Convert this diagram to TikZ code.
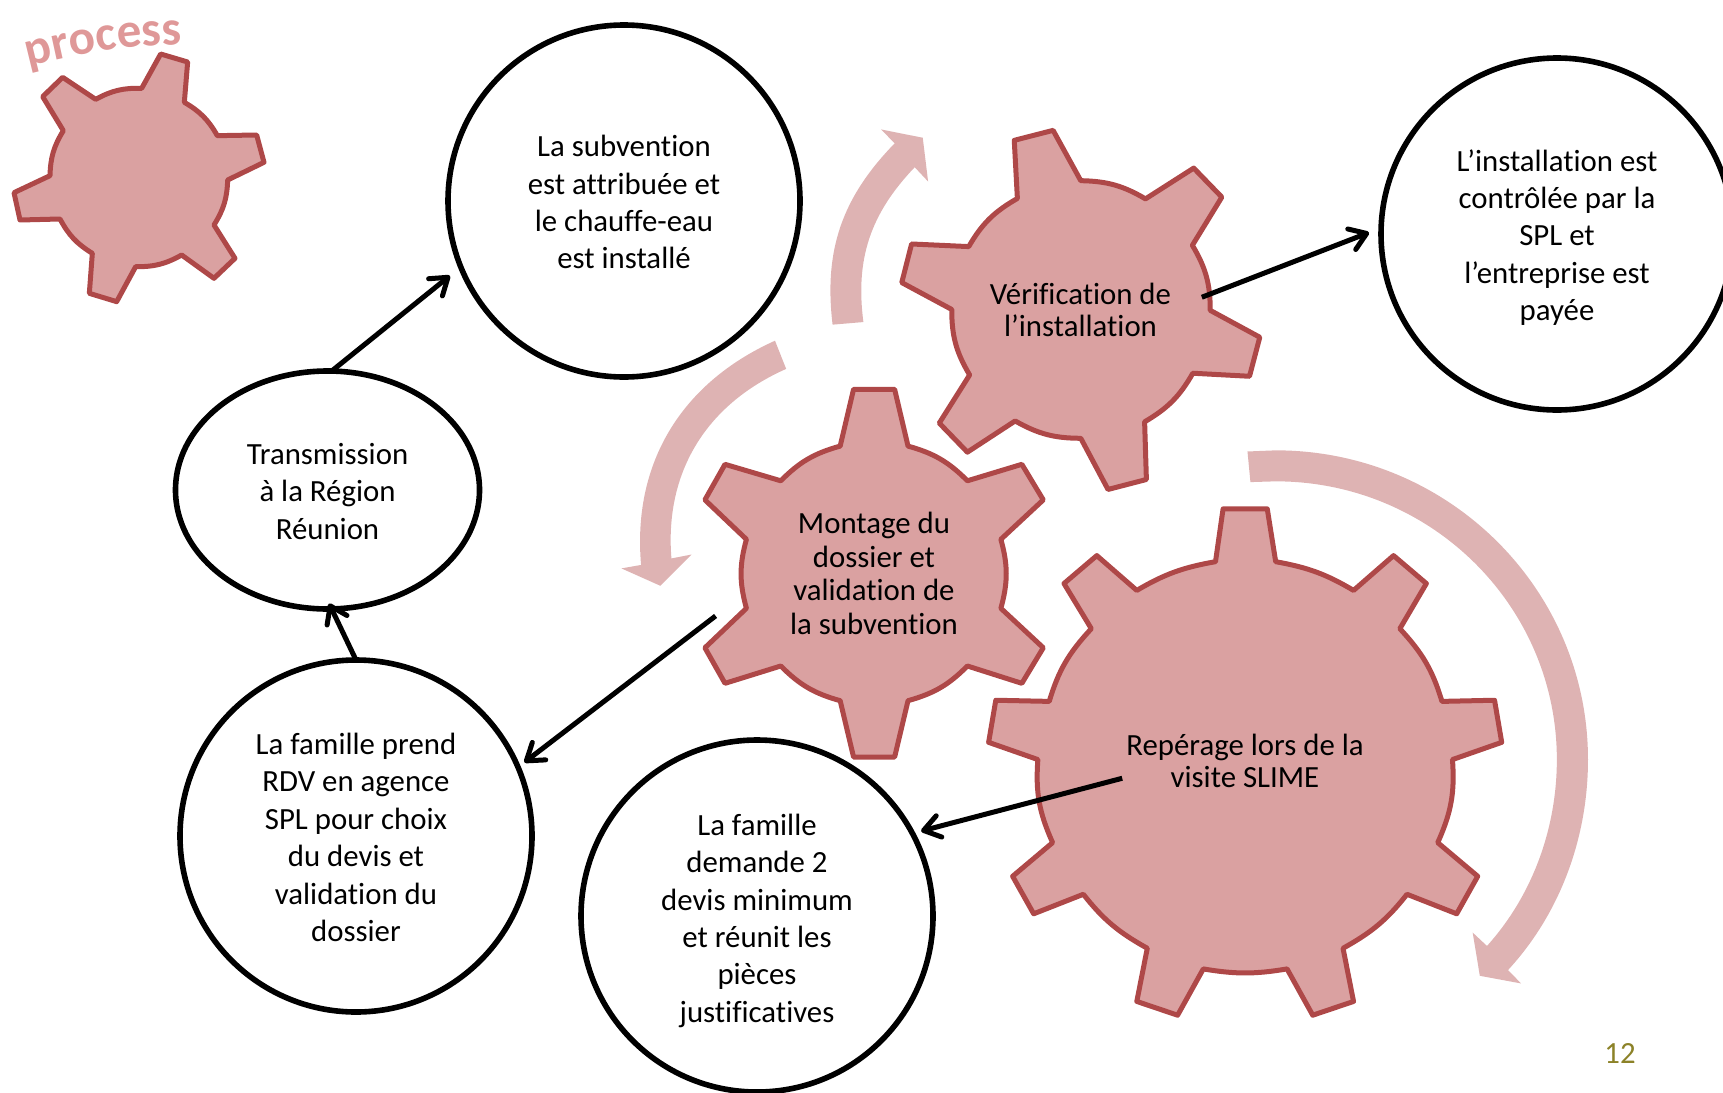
\documentclass[tikz,border=0pt]{standalone}
\usepackage{fontspec}
\setmainfont[Ligatures={NoCommon}]{Carlito}
\usetikzlibrary{shapes.geometric,arrows.meta,decorations.text}
\definecolor{gearfill}{RGB}{218,161,161}
\definecolor{gearline}{RGB}{174,72,72}
\definecolor{paleflow}{RGB}{222,179,179}
\definecolor{proctext}{RGB}{223,152,152}
\definecolor{pagenum}{RGB}{140,130,40}
\newcommand\toppad[1]{\rule{0pt}{#1}}
\tikzset{
  x=0.5pt,y=-0.5pt,
  gearbody/.style={fill=gearfill,draw=gearline,line width=2.5pt,line join=round},
  flowarc/.style={fill=paleflow,draw=none},
  bubble/.style={circle,draw=black,line width=2.8pt,fill=white,minimum size=176pt,inner sep=0pt,outer sep=0pt,align=center,font=\fontsize{15.4}{18.7}\selectfont},
  oval/.style={ellipse,draw=black,line width=2.8pt,fill=white,minimum width=152pt,minimum height=119pt,inner sep=0pt,outer sep=0pt,align=center,font=\fontsize{15.4}{18.7}\selectfont},
  gearlabel/.style={circle,inner sep=0pt,outer sep=0pt,align=center},
  link/.style={draw=black,line width=2.5pt,-{Straight Barb[length=8pt,width=11pt,line width=2.5pt,round]}},
}
\begin{document}
\begin{tikzpicture}
\useasboundingbox (0,0) rectangle (1723,1092);
\clip (0,0) rectangle (1723,1092);
% small gear
\begin{scope}[xscale=1/3,yscale=1/3]
\path[gearbody] (482,162) -- (563,186) -- (553,307) to[bend left=15] (652,407) -- (770,405) -- (792,487) -- (683,540) to[bend left=15] (642,675) -- (705,775) -- (642,835) -- (545,765) to[bend left=15] (407,800) -- (350,905) -- (268,880) -- (277,760) to[bend left=15] (180,657) -- (60,660) -- (42,578) -- (150,527) to[bend left=15] (190,392) -- (128,290) -- (188,232) -- (287,298) to[bend left=15] (425,265) -- cycle;
\end{scope}
% verification gear and pale arrows
\begin{scope}[shift={(600,100)},xscale=0.4464,yscale=0.4337]
\path[flowarc] (521,518) to[bend left=25] (660,100) -- (630,68) -- (723,87) -- (735,188) -- (705,155) to[bend right=25] (590,512) -- cycle;
\path[flowarc] (392,555) to[bend right=35] (92,1072) -- (48,1080) -- (135,1120) -- (205,1048) -- (160,1057) to[bend left=35] (417,620) -- cycle;
\path[gearbody] (928,93) -- (1015,70) -- (1077,186) to[bend left=15] (1222,228) -- (1330,157) -- (1393,224) -- (1327,335) to[bend left=15] (1367,485) -- (1478,547) -- (1455,637) -- (1328,630) to[bend left=15] (1220,742) -- (1224,875) -- (1138,898) -- (1077,780) to[bend left=15] (930,740) -- (823,812) -- (760,745) -- (828,634) to[bend left=15] (788,483) -- (676,421) -- (698,332) -- (826,338) to[bend left=15] (935,227) -- cycle;
\path[gearbody] (568,667) -- (660,667) -- (690,798) to[bend left=15] (823,878) -- (945,840) -- (993,922) -- (898,1013) to[bend left=15] (898,1172) -- (993,1263) -- (945,1345) -- (823,1305) to[bend left=15] (690,1385) -- (660,1515) -- (568,1515) -- (538,1385) to[bend left=15] (405,1305) -- (280,1345) -- (235,1263) -- (328,1172) to[bend left=15] (328,1013) -- (235,922) -- (280,840) -- (405,878) to[bend left=15] (538,798) -- cycle;
\end{scope}
% big gear and big pale arrow
\begin{scope}[shift={(960,440)},xscale=0.4209,yscale=0.3827]
\path[flowarc] (683,30) -- (750,27) .. controls (1160,27) and (1492,389) .. (1492,835) .. controls (1492,1037) and (1427,1236) .. (1302,1385) -- (1333,1420) -- (1235,1400) -- (1218,1287) -- (1252,1322) .. controls (1361,1189) and (1418,1013) .. (1418,835) .. controls (1418,433) and (1119,108) .. (750,108) -- (690,110) -- cycle;
\path[gearbody] (625,180) -- (730,180) -- (750,318) to[bend left=11] (935,393) -- (1030,302) -- (1108,375) -- (1045,493) to[bend left=12.5] (1145,683) -- (1270,680) -- (1287,790) -- (1170,835) to[bend left=13] (1135,1052) -- (1230,1140) -- (1180,1238) -- (1062,1187) to[bend left=11.5] (910,1328) -- (935,1467) -- (838,1503) -- (777,1382) to[bend left=10.5] (578,1382) -- (517,1503) -- (420,1467) -- (445,1328) to[bend left=11.5] (293,1187) -- (175,1238) -- (125,1140) -- (220,1052) to[bend left=13] (185,835) -- (68,790) -- (85,680) -- (212,683) to[bend left=12.5] (312,493) -- (247,375) -- (325,302) -- (420,393) to[bend left=11] (607,318) -- cycle;
\end{scope}
% texts
\path[decorate,decoration={text along path,text align=center,text={|\fontsize{24.6}{25}\selectfont\bfseries\color{proctext}|process}}] (27,67) to[bend left=6] (184,44);
\node[gearlabel,minimum size=122pt,font=\fontsize{15.4}{16}\selectfont] (gv) at (1080.5,310) {Vérification de\\l’installation};
\node[gearlabel,minimum size=164pt,font=\fontsize{15.4}{16.9}\selectfont] (gm) at (874,573.5) {Montage du\\dossier et\\validation de\\la subvention};
\node[gearlabel,minimum size=124pt,font=\fontsize{15.4}{16}\selectfont] (gr) at (1245,761) {Repérage lors de la\\visite SLIME};
\node[bubble] (c1) at (624,201) {\toppad{12pt}La subvention\\est attribuée et\\le chauffe-eau\\est installé};
\node[bubble] (c2) at (1557,234) {\toppad{14.3pt}L’installation est\\contrôlée par la\\SPL et\\l’entreprise est\\payée};
\node[oval] (c3) at (327.5,490) {\toppad{12pt}Transmission\\à la Région\\Réunion};
\node[bubble] (c4) at (356,836) {\toppad{12pt}La famille prend\\RDV en agence\\SPL pour choix\\du devis et\\validation du\\dossier};
\node[bubble] (c5) at (757,916) {\toppad{15.4pt}La famille\\demande 2\\devis minimum\\et réunit les\\pièces\\justificatives};
\node[text=pagenum,font=\fontsize{15.4}{16}\selectfont] (pg) at (1620,1053) {12};
% connectors
\draw[link,shorten >=6.5pt] (gv.6.8) -- (c2.178);
\draw[link,shorten >=4pt] (gm.195.9) -- (c4.23.1);
\draw[link,shorten >=4.5pt] (gr.188.3) -- (c5.28.8);
\draw[link,shorten >=-3pt] (c4.90) -- (c3.272);
\draw[link,shorten >=7pt] (c3.88) -- (c1.202);
\end{tikzpicture}
\end{document}
